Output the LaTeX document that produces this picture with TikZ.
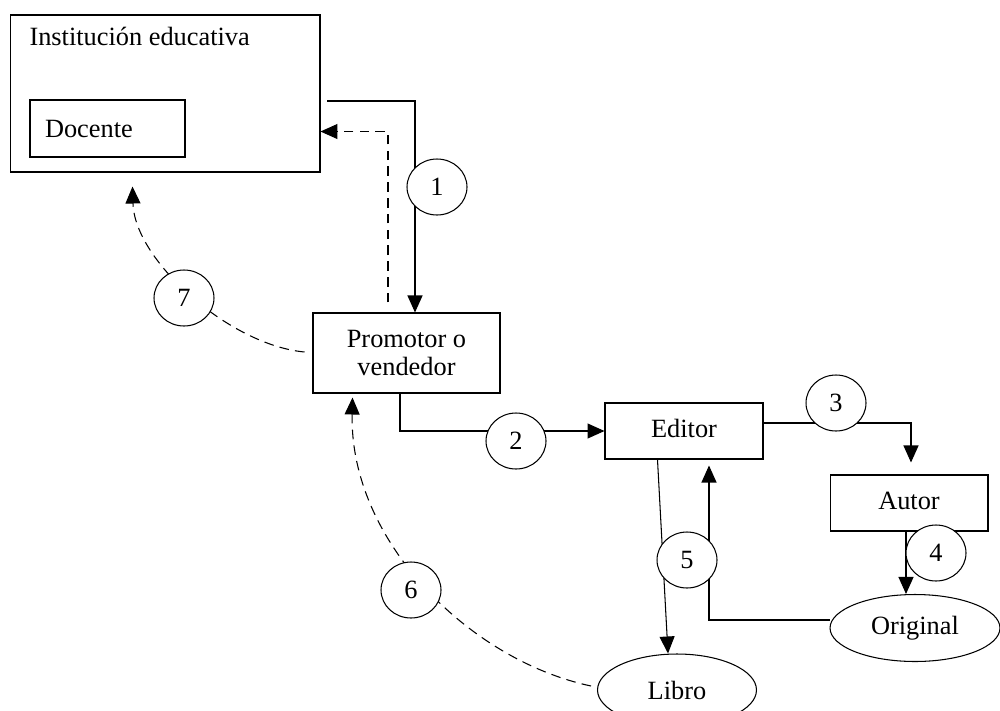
\documentclass[tikz,border=0pt]{standalone}
\usepackage{fontspec}
\setmainfont{Liberation Serif}
\usetikzlibrary{arrows.meta, positioning, shapes.geometric, calc}

\begin{document}
\begin{tikzpicture}[
    x=0.02cm, y=-0.02cm,
    font=\fontsize{15}{16}\selectfont,
    line width=0.6pt,
    box/.style={draw, rectangle, inner sep=0pt, align=center},
    oval/.style={draw, ellipse, inner sep=0pt},
    num/.style={draw, ellipse, fill=white, minimum width=1.2cm, minimum height=1.12cm, inner sep=0pt},
    arrow/.style={-{Triangle[length=3.4mm, width=3mm]}},
    dline/.style={arrow, dash pattern=on 5.5pt off 3.5pt},
]
    \useasboundingbox (0,0) rectangle (1000,710);

    % Boxes
    \node[box, minimum width=6.2cm, minimum height=3.14cm] (inst) at (165,93.5) {};
    \node[anchor=base west, inner sep=0pt] (insttxt) at (29,45) {Institución educativa};
    \node[box, minimum width=3.1cm, minimum height=1.14cm, text width=2.5cm, align=left, inner xsep=0.3cm] (docente) at (107.5,128.5) {Docente};
    \node[box, minimum width=3.74cm, minimum height=1.6cm] (prom) at (406.5,353) {Promotor o\\vendedor};
    \node[box, minimum width=3.16cm, minimum height=1.12cm, text depth=0.12cm] (editor) at (684,431) {Editor};
    \node[box, minimum width=3.16cm, minimum height=1.12cm, text depth=0.1cm] (autor) at (909,503) {Autor};
    \node[oval, minimum width=3.4cm, minimum height=1.34cm] (orig) at (915,628) {Original};
    \node[oval, minimum width=3.18cm, minimum height=1.44cm] (libro) at (677,690) {Libro};

    % Arrows
    \coordinate (start1) at (327,101);
    \draw[arrow] (start1) -| ($(prom.north)+(8.5,0)$);
    \draw[dline] ($(prom.north)+(-18.5,-10)$) |- ($(inst.south east)+(0,-41)$);
    \draw[arrow] ($(prom.south)+(-6.5,0)$) |- (editor.west);
    \draw[arrow] ($(editor.east)+(0,-8)$) -| ($(autor.north)+(2,-12)$);
    \draw[arrow] ($(autor.south)+(-3,0)$) -- ($(orig.north)+(-9,0)$);
    \draw[arrow] ($(editor.south west)+(53,0)$) -- ($(libro.north)+(-9,0)$);
    \draw[arrow] ($(orig.west)+(0,-8)$) -| ($(editor.south)+(25,6)$);
    \draw[dline] ($(libro.west)+(-6,-4)$) .. controls +(-122,-26) and +(-3,143) .. ($(prom.south west)+(40,4)$);
    \draw[dline] ($(prom.west)+(-8,-1)$) .. controls +(-75,-7) and +(2,74) .. ($(inst.south west)+(123,14)$);

    % Step numbers
    \node[num] (n1) at (437,187) {1};
    \node[num] (n2) at (516,441) {2};
    \node[num] (n3) at (836,403) {3};
    \node[num] (n4) at (936,553) {4};
    \node[num] (n5) at (687,560) {5};
    \node[num] (n6) at (411,590) {6};
    \node[num] (n7) at (184,298) {7};
\end{tikzpicture}
\end{document}
